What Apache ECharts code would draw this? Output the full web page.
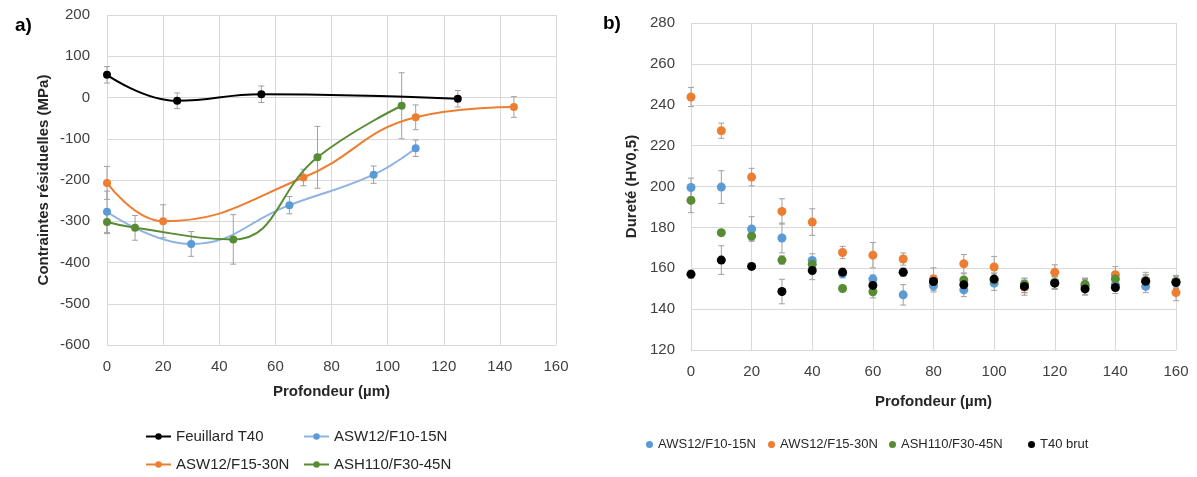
<!DOCTYPE html>
<html>
<head>
<meta charset="utf-8">
<script src="https://cdn.jsdelivr.net/npm/echarts@6/dist/echarts.min.js"></script>
<style>html,body{margin:0;padding:0;background:#fff}#c{width:1197px;height:477px}</style>
</head>
<body>
<div id="c"></div>
<script>
// ---------- Chart a) residual stresses ----------
const depthT40 = [0, 25, 55, 125];
const stressT40 = [55, -8, 8, -3];
const errT40 = [20, 19, 20, 20];

const depthA1015 = [0, 30, 65, 95, 110];
const stressA1015 = [-277, -355, -261, -187, -123];
const errA1015 = [50, 30, 21, 21, 20];

const depthA1530 = [0, 20, 70, 110, 145];
const stressA1530 = [-207, -300, -194, -48, -23];
const errA1530 = [40, 40, 20, 30, 25];

const depthH3045 = [0, 10, 45, 75, 105];
const stressH3045 = [-302, -316, -344, -145, -20];
const errH3045 = [28, 30, 60, 75, 80];

const namesA = ['Feuillard T40', 'ASW12/F10-15N', 'ASW12/F15-30N', 'ASH110/F30-45N'];

// ---------- Chart b) hardness ----------
const depthHV = [0, 10, 20, 30, 40, 50, 60, 70, 80, 90, 100, 110, 120, 130, 140, 150, 160];
const hvB1015 = [199.5, 199.7, 179.2, 174.8, 163.8, 157.3, 154.7, 147, 151.4, 149.4, 152.7, 151, 153, 151.5, 152, 151.1, 153];
const errB1015 = [4.6, 8, 6, 7.3, 3.3, 2, 2, 5, 3, 3.3, 3.5, 3, 3, 3, 3, 3, 3];
const hvB1530 = [243.8, 227.3, 204.6, 187.8, 182.6, 167.7, 166.4, 164.5, 154.7, 162.2, 160.6, 150.8, 158, 151, 156.8, 154, 148.1];
const errB1530 = [4.7, 3.7, 4.3, 6.2, 6.5, 3, 6.2, 3, 5.5, 4.5, 5.2, 4, 3.7, 4, 4, 4, 4];
const hvB3045 = [193.2, 177.4, 175.7, 164, 162, 150.1, 148.5, 158, 153.5, 154.3, 154.3, 152.2, 153, 152.2, 154.8, 153.9, 153.5];
const errB3045 = [6, 1.5, 2, 2, 2, 1, 3, 2, 3, 3, 3, 3, 3, 3, 3, 3, 3];
const hvT40 = [157.1, 164, 160.9, 148.6, 158.9, 158.1, 151.6, 158.1, 153.5, 151.9, 154.7, 151.1, 152.7, 149.9, 150.6, 153.6, 153];
const errT40b = [2, 7, 1.5, 6, 4.5, 2, 2.5, 2, 3, 3, 3, 3, 3, 3, 3, 3, 3];

const namesB = ['AWS12/F10-15N', 'AWS12/F15-30N', 'ASH110/F30-45N', 'T40 brut'];

const xTicks = [0, 20, 40, 60, 80, 100, 120, 140, 160];

// ---------- styling ----------
const FONT = 'Liberation Sans';
const TXT = '#404040';
const GRIDC = '#D9D9D9';
const ERRC = '#A0A0A0';
const cBlack = '#000000', cBlue = '#5B9BD5', cBlueLine = '#8DB3E2', cOrange = '#ED7D31', cGreen = '#578C34';

function pairs(xs, ys) { return xs.map((x, i) => [x, ys[i]]); }
function errData(xs, ys, es) { return xs.map((x, i) => [x, ys[i] - es[i], ys[i] + es[i]]); }

function errSeries(xs, ys, es, axis, z) {
  return {
    type: 'custom', xAxisIndex: axis, yAxisIndex: axis, z: z, silent: true,
    data: errData(xs, ys, es), encode: { x: 0, y: [1, 2] },
    renderItem: function (params, api) {
      const lo = api.coord([api.value(0), api.value(1)]);
      const hi = api.coord([api.value(0), api.value(2)]);
      const w = 3;
      const st = { stroke: ERRC, lineWidth: 1 };
      return {
        type: 'group', children: [
          { type: 'line', shape: { x1: lo[0], y1: lo[1], x2: hi[0], y2: hi[1] }, style: st },
          { type: 'line', shape: { x1: lo[0] - w, y1: lo[1], x2: lo[0] + w, y2: lo[1] }, style: st },
          { type: 'line', shape: { x1: hi[0] - w, y1: hi[1], x2: hi[0] + w, y2: hi[1] }, style: st }
        ]
      };
    }
  };
}

function lineSeries(name, xs, ys, color, lineColor, z) {
  return {
    name: name, type: 'line', xAxisIndex: 0, yAxisIndex: 0, z: z,
    data: pairs(xs, ys), smooth: 0.45, symbol: 'circle', symbolSize: 8,
    itemStyle: { color: color, opacity: 1 }, lineStyle: { color: lineColor, width: 2 },
    emphasis: { disabled: true }
  };
}

function scatterSeries(name, xs, ys, color, z) {
  return {
    name: name, type: 'scatter', xAxisIndex: 1, yAxisIndex: 1, z: z,
    data: pairs(xs, ys), symbol: 'circle', symbolSize: 9,
    itemStyle: { color: color, opacity: 1 }, emphasis: { disabled: true }
  };
}

function legendItem(name, left, top, isLine) {
  const o = {
    data: [name], left: left, top: top, padding: 0,
    textStyle: { fontFamily: FONT, fontSize: isLine ? 15 : 13, color: '#262626' },
    selectedMode: false
  };
  if (isLine) { o.itemWidth = 25; o.itemHeight = 8; o.itemGap = 4; }
  else { o.icon = 'circle'; o.itemWidth = 7; o.itemHeight = 7; o.itemGap = 5; }
  return o;
}

function xAxisCfg(grid, nameGap) {
  return {
    type: 'value', gridIndex: grid, min: 0, max: 160, interval: 20,
    axisLine: { show: false }, axisTick: { show: false },
    axisLabel: { fontFamily: FONT, fontSize: 15, color: TXT, margin: 14,
      formatter: v => xTicks.includes(v) ? String(v) : '' },
    splitLine: { show: true, lineStyle: { color: GRIDC, width: 1 } },
    name: 'Profondeur (µm)', nameLocation: 'middle', nameGap: nameGap,
    nameTextStyle: { fontFamily: FONT, fontSize: 15, fontWeight: 'bold', color: '#262626' }
  };
}

const option = {
  animation: false,
  backgroundColor: '#ffffff',
  title: [
    { text: 'a)', left: 10, top: 11, textStyle: { fontFamily: FONT, fontSize: 19, fontWeight: 'bold', color: '#000' } },
    { text: 'b)', left: 598, top: 9, textStyle: { fontFamily: FONT, fontSize: 19, fontWeight: 'bold', color: '#000' } }
  ],
  grid: [
    { left: 107, top: 15, width: 449, height: 330 },
    { left: 691, top: 23, width: 485, height: 327 }
  ],
  xAxis: [xAxisCfg(0, 39), xAxisCfg(1, 44)],
  yAxis: [
    {
      type: 'value', gridIndex: 0, min: -600, max: 200, interval: 100,
      axisLine: { show: false }, axisTick: { show: false },
      axisLabel: { fontFamily: FONT, fontSize: 15, color: TXT, margin: 17 },
      splitLine: { show: true, lineStyle: { color: GRIDC, width: 1 } },
      name: 'Contraintes résiduelles (MPa)', nameLocation: 'middle', nameGap: 56,
      nameTextStyle: { fontFamily: FONT, fontSize: 15, fontWeight: 'bold', color: '#262626' }
    },
    {
      type: 'value', gridIndex: 1, min: 120, max: 280, interval: 20,
      axisLine: { show: false }, axisTick: { show: false },
      axisLabel: { fontFamily: FONT, fontSize: 15, color: TXT, margin: 16 },
      splitLine: { show: true, lineStyle: { color: GRIDC, width: 1 } },
      name: 'Dureté (HV0,5)', nameLocation: 'middle', nameGap: 52,
      nameTextStyle: { fontFamily: FONT, fontSize: 15, fontWeight: 'bold', color: '#262626' }
    }
  ],
  legend: [
    legendItem(namesA[0], 145, 429, true),
    legendItem(namesA[1], 303, 429, true),
    legendItem(namesA[2], 145, 457, true),
    legendItem(namesA[3], 303, 457, true),
    legendItem(namesB[0], 646, 438, false),
    legendItem(namesB[1], 768, 438, false),
    legendItem(namesB[2], 889, 438, false),
    legendItem(namesB[3], 1028, 438, false)
  ],
  series: [
    errSeries(depthT40, stressT40, errT40, 0, 1),
    errSeries(depthA1015, stressA1015, errA1015, 0, 1),
    errSeries(depthA1530, stressA1530, errA1530, 0, 1),
    errSeries(depthH3045, stressH3045, errH3045, 0, 1),
    lineSeries(namesA[0], depthT40, stressT40, cBlack, cBlack, 2),
    lineSeries(namesA[1], depthA1015, stressA1015, cBlue, cBlueLine, 3),
    lineSeries(namesA[2], depthA1530, stressA1530, cOrange, cOrange, 4),
    lineSeries(namesA[3], depthH3045, stressH3045, cGreen, cGreen, 5),

    errSeries(depthHV, hvB1015, errB1015, 1, 1),
    errSeries(depthHV, hvB1530, errB1530, 1, 1),
    errSeries(depthHV, hvB3045, errB3045, 1, 1),
    errSeries(depthHV, hvT40, errT40b, 1, 1),
    scatterSeries(namesB[0], depthHV, hvB1015, cBlue, 2),
    scatterSeries(namesB[1], depthHV, hvB1530, cOrange, 3),
    scatterSeries(namesB[2], depthHV, hvB3045, cGreen, 4),
    scatterSeries(namesB[3], depthHV, hvT40, cBlack, 5)
  ]
};

const chart = echarts.init(document.getElementById('c'), null, { renderer: 'canvas' });
chart.setOption(option);
</script>
</body>
</html>
